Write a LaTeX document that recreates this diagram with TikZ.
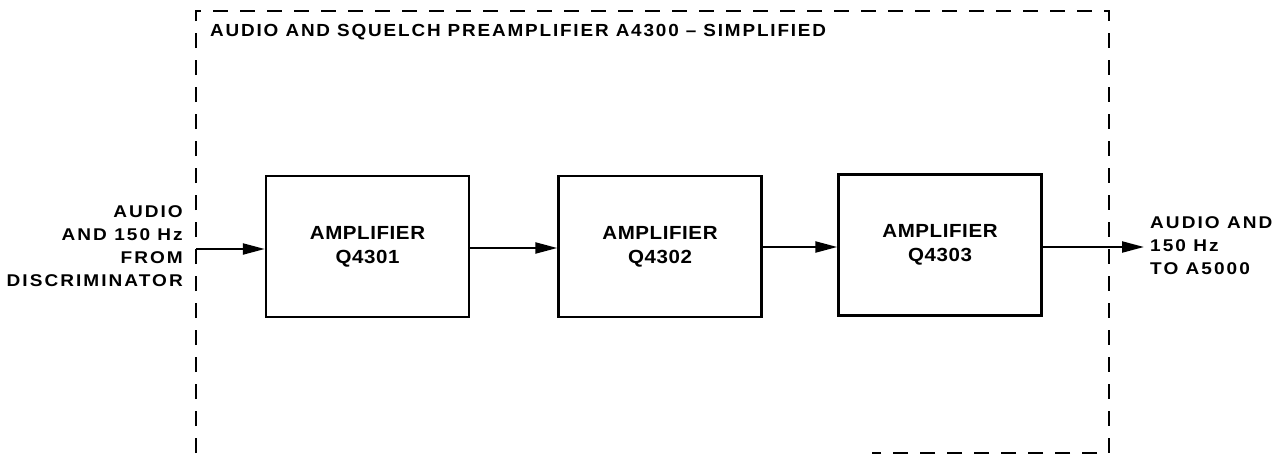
\documentclass[tikz,border=0pt]{standalone}
\usepackage{fontspec}
\setmainfont{Liberation Sans}
\usetikzlibrary{arrows.meta,calc}
\newfontfamily\lblfont[FakeStretch=1.12,LetterSpace=12]{Liberation Sans}
\newfontfamily\boxfont[FakeStretch=1.08,LetterSpace=3]{Liberation Sans}
\newfontfamily\titlefont[FakeStretch=1.08,LetterSpace=10.5]{Liberation Sans}
\begin{document}
\begin{tikzpicture}[x=1pt,y=-1pt,
  ampbox/.style={draw,line width=2.4pt,minimum width=203pt,minimum height=141pt,inner sep=0pt,
    font=\boxfont\bfseries\fontsize{19}{24}\selectfont,align=center},
  sig/.style={line width=2.2pt,-{Triangle[length=22pt,width=11pt]}},
  frame/.style={line width=2.2pt,dash pattern=on 15pt off 12pt},
  lbl/.style={font=\lblfont\bfseries\fontsize{17}{23}\selectfont,inner sep=0pt}]
\useasboundingbox (0,0) rectangle (1283,455);
% dashed enclosure
\coordinate (fbl) at (196,453);
\coordinate (ftl) at (196,11);
\coordinate (ftr) at (1109,11);
\coordinate (fbr) at (1109,453);
\coordinate (fbm) at (872,453);
\draw[frame] (fbl) -- (ftl) -- (ftr) -- (fbr) -- (fbm);
\node[anchor=west,inner sep=0pt,font=\titlefont\bfseries\fontsize{17.5}{20}\selectfont] (title) at (210,32)
  {AUDIO AND SQUELCH PREAMPLIFIER A4300 \textendash\ SIMPLIFIED};
% amplifier blocks
\node[ampbox] (a1) at (367.5,246.5) {AMPLIFIER\\Q4301};
\node[ampbox] (a2) at (660,246.5) {AMPLIFIER\\Q4302};
\node[ampbox] (a3) at (940,245) {AMPLIFIER\\Q4303};
% input and output labels
\node[lbl,anchor=east,align=right] (inlbl) at (183,246) {AUDIO\\AND 150 Hz\\FROM\\DISCRIMINATOR};
\node[lbl,anchor=west,align=left] (outlbl) at (1150,246) {AUDIO AND\\150 Hz\\TO A5000};
\coordinate (inpt) at (196,249);
\coordinate (outpt) at (1144,247);
% connectors
\draw[sig] (inpt) -- (inpt -| a1.west);
\draw[sig] (a1.east |- 0,248) -- (a2.west |- 0,248);
\draw[sig] (a2.east |- 0,247) -- (a3.west |- 0,247);
\draw[sig] (a3.east |- 0,247) -- (outpt);
\end{tikzpicture}
\end{document}
